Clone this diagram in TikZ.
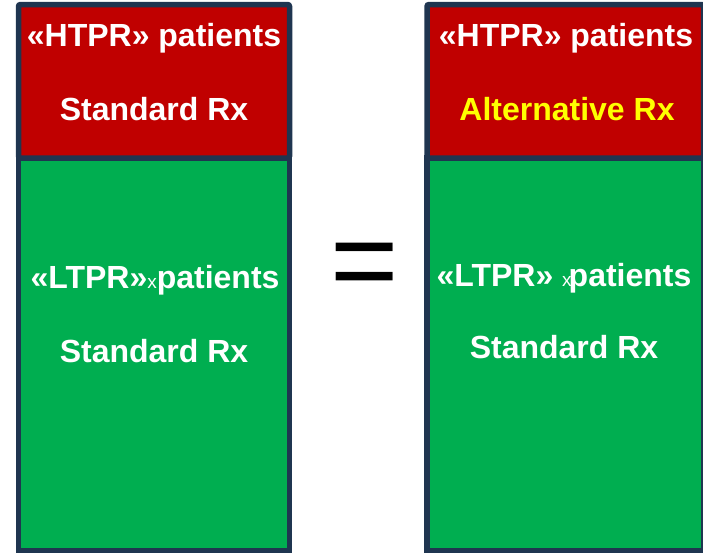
\documentclass[tikz,border=0pt]{standalone}
\usepackage{fontspec}
\setmainfont{Liberation Sans}
\usetikzlibrary{positioning}
\definecolor{FrameNavy}{RGB}{31, 53, 80}
\definecolor{HtprRed}{RGB}{192, 0, 0}
\definecolor{LtprGreen}{RGB}{0, 174, 80}
\definecolor{AltYellow}{RGB}{255, 255, 0}

\tikzset{
    grouppart/.style={rectangle, draw=FrameNavy, line width=5.5pt, inner sep=0pt},
    htprpart/.style={grouppart, fill=HtprRed},
    ltprpart/.style={grouppart, fill=LtprGreen},
    boxtext/.style={anchor=base, inner sep=0pt, text=white,
        font=\fontsize{32}{32}\selectfont\bfseries},
}
\newcommand{\smallmark}{{\fontsize{19}{19}\selectfont\mdseries x}}

\begin{document}
\begin{tikzpicture}[x=1pt, y=-1pt]
            % Fixed frame of the picture
            \useasboundingbox (0,0) rectangle (703,552);

            % Left group: standard treatment for everybody
            \node[ltprpart, minimum width=271pt, minimum height=393pt] (leftLow) at (154,354.5) {};
            \node[htprpart, minimum width=271pt, minimum height=153.5pt, rounded corners=2pt] (leftHigh) at (154,81.25) {};

            % Right group: alternative treatment for HTPR patients
            \node[ltprpart, minimum width=276.5pt, minimum height=393pt] (rightLow) at (565.25,354.5) {};
            \node[htprpart, minimum width=276.5pt, minimum height=153.5pt, rounded corners=2pt] (rightHigh) at (565.25,81.25) {};

            % Labels
            \node[boxtext] (leftHighName) at (154,46.7) {«HTPR» patients};
            \node[boxtext] (leftHighRx) at (154,120.7) {Standard Rx};
            \node[boxtext] (leftLowName) at (155,288) {«LTPR»\smallmark patients};
            \node[boxtext] (leftLowRx) at (154,362) {Standard Rx};

            \node[boxtext] (rightHighName) at (566,46.7) {«HTPR» patients};
            \node[boxtext, text=AltYellow] (rightHighRx) at (567,120) {Alternative Rx};
            \node[boxtext] (rightLowName) at (564,286) {«LTPR» \smallmark\kern-3pt patients};
            \node[boxtext] (rightLowRx) at (564,358) {Standard Rx};

            % Equal sign between the groups
            \node[anchor=base, inner sep=0pt, font=\fontsize{117}{117}\selectfont] (equalSign) at (364.4,300) {=};
        \end{tikzpicture}
\end{document}
